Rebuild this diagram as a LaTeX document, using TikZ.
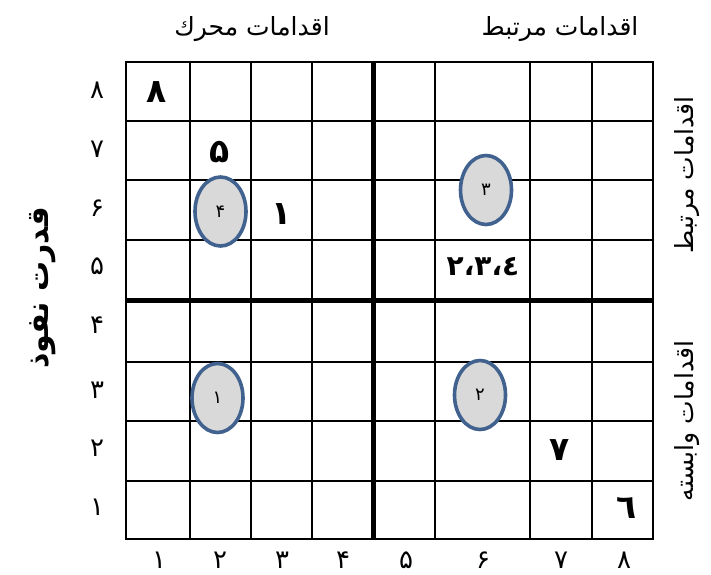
\documentclass[tikz,border=0pt]{standalone}
\usepackage{fontspec}
\usetikzlibrary{shapes.geometric}
\TeXXeTstate=1
\newfontfamily\arabicfont[Script=Arabic]{DejaVu Sans}
\definecolor{ellblue}{HTML}{41618F}
\definecolor{ellgray}{HTML}{D9D9D9}
\begin{document}
\begin{tikzpicture}[x=1pt,y=-1pt,
  gridline/.style={line width=1.6pt},
  thickline/.style={line width=5pt},
  blob/.style={ellipse, draw=ellblue, line width=3.6pt, fill=ellgray,
    minimum width=51pt, minimum height=69pt, inner sep=0pt,
    font=\arabicfont\fontsize{18}{18}\selectfont},
  axisnum/.style={font=\arabicfont\fontsize{26}{26}\selectfont, inner sep=0pt},
  cellnum/.style={font=\arabicfont\bfseries\fontsize{33}{33}\selectfont, inner sep=0pt},
  title/.style={font=\arabicfont\fontsize{25}{25}\selectfont, inner sep=0pt},
  sidetitle/.style={font=\arabicfont\fontsize{25}{25}\selectfont, rotate=90, inner sep=0pt},
]
\useasboundingbox (0,0) rectangle (711,574);
% grid
\foreach \x in {190,251,312,435,530,592}
  \draw[gridline] (\x,62) -- (\x,539);
\foreach \y in {121,180,240,362,421,481}
  \draw[gridline] (126,\y) -- (653,\y);
\draw[gridline] (126,62) rectangle (653,539);
\draw[thickline] (373,62) -- (373,539);
\draw[thickline] (126,300) -- (653,300);
% titles
\node[title] (tl) at (252,29) {\beginR اقدامات محرك\endR};
\node[title] (tr) at (560,29) {\beginR اقدامات مرتبط\endR};
\node[sidetitle] (sr1) at (687,175) {\beginR اقدامات مرتبط\endR};
\node[sidetitle] (sr2) at (687,421) {\beginR اقدامات وابسته\endR};
\node[font=\arabicfont\bfseries\fontsize{30}{30}\selectfont, rotate=90, inner sep=0pt] (sl) at (43,288) {\beginR قدرت نفوذ\endR};
% row labels
\node[axisnum] (r8) at (97,90) {۸};
\node[axisnum] (r7) at (97,149) {۷};
\node[axisnum] (r6) at (97,208) {۶};
\node[axisnum] (r5) at (97,266) {۵};
\node[axisnum] (r4) at (97,325) {۴};
\node[axisnum] (r3) at (97,390) {۳};
\node[axisnum] (r2) at (97,448) {۲};
\node[axisnum] (r1) at (97,507) {۱};
% column labels
\node[axisnum] (c1) at (159,560) {۱};
\node[axisnum] (c2) at (220,560) {۲};
\node[axisnum] (c3) at (282,560) {۳};
\node[axisnum] (c4) at (343,560) {۴};
\node[axisnum] (c5) at (406,560) {۵};
\node[axisnum] (c6) at (483,560) {۶};
\node[axisnum] (c7) at (561,560) {۷};
\node[axisnum] (c8) at (624,560) {۸};
% cell entries
\node[cellnum] (e8) at (157,92) {۸};
\node[cellnum] (e5) at (220,152) {۵};
\node[cellnum] (e1) at (282,214) {۱};
\node[cellnum, font=\arabicfont\bfseries\fontsize{28}{28}\selectfont] (e234) at (483,267) {\mbox{۲}\mbox{،}\mbox{۳}\mbox{،}\mbox{٤}};
\node[cellnum] (e7) at (560,450) {۷};
\node[cellnum] (e6) at (627,508) {٦};
% ellipses
\node[blob] (o4) at (220.5,211.5) {۴};
\node[blob] (o3) at (486,190) {۳};
\node[blob] (o1) at (217.5,398) {۱};
\node[blob] (o2) at (480,395) {۲};
\end{tikzpicture}
\end{document}
